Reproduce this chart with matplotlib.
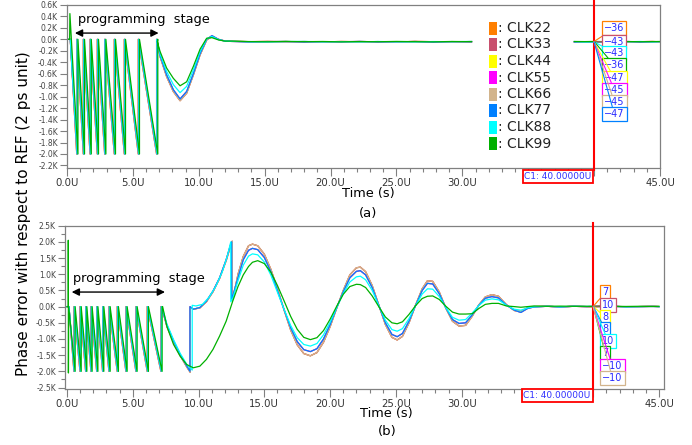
import numpy as np
import matplotlib
matplotlib.use('Agg')
import matplotlib.pyplot as plt
from matplotlib.patches import Rectangle
from matplotlib.ticker import MultipleLocator, FuncFormatter
import matplotlib.transforms as mtrans

W, H = 692, 445
nan = np.nan

CLOCKS = ['CLK22', 'CLK33', 'CLK44', 'CLK55', 'CLK66', 'CLK77', 'CLK88', 'CLK99']
COLORS = ['#ff7f00', '#c8506e', '#ffff00', '#ff00ff', '#d2b48c', '#0080ff', '#00ffff', '#00b000']
# hidden clocks sit underneath the tan / blue traces
TRACE = ['tan', 'tan', 'blue', 'blue', 'tan', 'blue', 'cyan', 'green']
SAW_LAG = [0.0, 0.0, 0.03, 0.03, 0.0, 0.03, 0.05, 0.09]
SAW_LOW = -2000
CURSOR = 40.0
HIDDEN_XLABELS = [35, 40]   # covered by the C1 readout box

# ---- (a) ----
RESET_A = [0.74, 1.24, 1.75, 2.30, 2.86, 3.59, 4.35, 5.41, 6.80]
START_A = {'tan': ([0, 0.25], [0, 0]), 'blue': ([0, 0.25], [0, 0]),
           'cyan': ([0, 0.25], [0, 0]), 'green': ([0, 0.2, 0.22], [0, 0, 450])}
REC_A_T = [6.85, 7.06, 7.56, 8.07, 8.58, 9.08, 9.59, 10.1, 10.6, 11.0, 11.5, 12.0]
REC_A = {
    'tan':   [-40, -300, -650, -910, -1070, -940, -620, -270, -10, 50, 0, -30],
    'blue':  [-40, -280, -620, -880, -1040, -910, -600, -250, 0, 65, 0, -30],
    'cyan':  [-40, -250, -560, -790, -930, -820, -530, -210, 10, 50, -5, -30],
    'green': [-40, -210, -500, -680, -810, -740, -470, -170, 20, 30, -10, -30],
}
FLAT_A_T = [12.5, 13.8, 15.2, 16.6, 18.0, 19.4, 20.8, 22.2, 23.6, 25.0, 26.4, 27.8, 29.2, 30.7,
            nan, 38.5, 39.3, 40.0, 40.8, 41.7, 42.6, 43.5, 44.4, 45.0]
FLAT_A = {
    'tan':   [-32, -40, -36, -42, -38, -44, -37, -41, -39, -45, -36, -40, -43, -38,
              nan, -40, -44, -45, -41, -38, -44, -40, -37, -42],
    'blue':  [-36, -44, -39, -37, -45, -40, -42, -36, -44, -41, -38, -46, -39, -42,
              nan, -45, -41, -47, -43, -40, -38, -45, -41, -39],
    'cyan':  [-34, -41, -45, -39, -36, -43, -40, -45, -37, -42, -44, -38, -41, -36,
              nan, -38, -46, -43, -39, -44, -41, -37, -44, -40],
    'green': [-30, -38, -42, -35, -40, -37, -43, -38, -41, -36, -40, -43, -37, -40,
              nan, -37, -39, -36, -40, -42, -38, -41, -39, -37],
}
CUR_A_ORDER = ['CLK22', 'CLK33', 'CLK88', 'CLK99', 'CLK44', 'CLK55', 'CLK66', 'CLK77']
CUR_A_VALS = [-36, -43, -43, -36, -47, -45, -45, -47]

# ---- (b) ----
RESET_B = [0.53, 0.99, 1.42, 1.82, 2.26, 2.71, 3.19, 3.82, 4.48, 5.24, 6.10, 7.14]
START_B = {'tan': ([0, 0.15], [0, 0]), 'blue': ([0, 0.15], [0, 0]),
           'cyan': ([0, 0.15], [0, 0]),
           'green': ([0, 0.1, 0.1, 0.11, 0.13], [0, 0, 2050, -2050, 0])}
REC_B = {
    'tan': ([7.19, 7.6, 8.1, 8.6, 9.1, 9.37, 9.37, 9.6, 10.1, 10.6, 11.1, 11.6, 12.1, 12.5, 12.56, 12.56],
            [0, -620, -1100, -1510, -1860, -2030, -20, -80, -40, 150, 460, 870, 1420, 1960, 2020, 200]),
    'blue': ([7.17, 7.6, 8.1, 8.6, 9.1, 9.35, 9.35, 9.6, 10.1, 10.6, 11.1, 11.6, 12.1, 12.47, 12.52, 12.52],
             [0, -580, -1060, -1480, -1830, -2000, 0, -80, -30, 170, 480, 890, 1450, 1960, 2000, 250]),
    'cyan': ([7.22, 7.6, 8.1, 8.6, 9.1, 9.52, 9.52, 9.8, 10.3, 10.8, 11.3, 11.8, 12.2, 12.45, 12.45],
             [0, -540, -1020, -1440, -1780, -1960, 40, 20, 70, 290, 620, 1070, 1580, 2000, 150]),
    'green': ([7.27, 7.6, 8.1, 8.6, 9.1, 9.6, 10.1, 10.6, 11.1, 11.6, 12.1],
              [0, -620, -1170, -1530, -1790, -1890, -1840, -1630, -1320, -910, -450]),
}
OSC_B_T = [12.6, 13.0, 13.4, 13.8, 14.1, 14.5, 15.0, 15.5, 16.0, 16.5,
           17.0, 17.5, 18.0, 18.5, 19.0, 19.5, 20.0, 20.5, 21.0, 21.5,
           22.0, 22.3, 22.7, 23.2, 23.7, 24.2, 24.7, 25.1, 25.5, 26.0,
           26.5, 27.0, 27.4, 27.8, 28.3, 28.8, 29.3, 29.8, 30.3, 30.8,
           31.3, 31.8, 32.3, 32.8, 33.4, 34.0, 34.5, 35.0, 35.5, 36.5,
           37.5, 38.5, 39.5, 40.0, 40.5, 41.5, 42.5, 43.5, 44.5, 45.0]
OSC_B = {
    'tan': [220, 1000, 1550, 1880, 1930, 1880, 1620, 1150, 550, -100,
            -720, -1180, -1450, -1520, -1420, -1100, -620, -50, 500, 980,
            1200, 1220, 1080, 650, 50, -550, -950, -1030, -920, -500,
            50, 550, 800, 780, 450, -50, -450, -600, -580, -300,
            50, 300, 370, 320, 60, -120, -150, -40, 0, 10,
            -10, 10, 0, -10, 0, 10, -10, 0, 10, 0],
    'blue': [320, 900, 1450, 1740, 1800, 1760, 1520, 1080, 500, -90,
             -650, -1080, -1330, -1390, -1300, -1000, -560, -40, 460, 890,
             1090, 1110, 980, 590, 40, -500, -860, -930, -830, -450,
             40, 500, 720, 700, 400, -40, -400, -520, -500, -260,
             40, 260, 310, 270, 50, -110, -180, -60, -10, 10,
             -10, 10, 0, 8, 5, 10, -5, 0, 5, 0],
    'cyan': [250, 800, 1280, 1560, 1630, 1600, 1380, 970, 440, -80,
             -580, -960, -1170, -1220, -1140, -870, -480, -30, 400, 760,
             920, 940, 830, 500, 30, -420, -710, -760, -680, -370,
             30, 390, 550, 540, 310, -30, -330, -420, -400, -200,
             30, 200, 240, 210, 40, -80, -110, -40, -5, 10,
             -5, 10, 5, 10, 5, 5, -5, 0, 5, 0],
    'green': [170, 620, 980, 1240, 1370, 1420, 1330, 1060, 650, 180,
              -300, -700, -950, -1020, -960, -740, -390, 10, 380, 620,
              690, 680, 590, 330, 0, -320, -500, -530, -470, -240,
              30, 250, 320, 330, 220, 10, -170, -230, -230, -220,
              -60, 70, 100, 100, 20, 0, -20, 0, 20, 10,
              15, 10, 10, 7, 10, 10, 5, 10, 5, 10],
}
CUR_B_ORDER = ['CLK22', 'CLK33', 'CLK44', 'CLK77', 'CLK88', 'CLK99', 'CLK55', 'CLK66']
CUR_B_VALS = [7, 10, 8, 8, 10, 7, -10, -10]


def fx(px):
    return px / W


def fy(py):
    return 1 - py / H


def sawtooth(start, resets, lag):
    t, v = list(start[0]), list(start[1])
    for r in resets:
        t += [r + lag, r + lag]
        v += [SAW_LOW, 0]
    return t, v


def xlabel_fmt(v, _):
    if any(abs(v - h) < 1e-6 for h in HIDDEN_XLABELS):
        return ''
    return f'{v:.1f}U'


def style_axes(ax, ymajor, yminor):
    for s in ax.spines.values():
        s.set_color('#808080')
        s.set_linewidth(0.9)
    ax.xaxis.set_major_locator(MultipleLocator(5))
    ax.xaxis.set_minor_locator(MultipleLocator(1))
    ax.yaxis.set_major_locator(MultipleLocator(ymajor))
    if yminor:
        ax.yaxis.set_minor_locator(MultipleLocator(yminor))
    ax.xaxis.set_major_formatter(FuncFormatter(xlabel_fmt))
    ax.yaxis.set_major_formatter(
        FuncFormatter(lambda v, _: f'{0.0 if abs(v) < 1e-9 else v / 1000:.1f}K'))
    ax.tick_params(axis='x', which='major', length=6, width=0.8, color='#808080',
                   labelsize=7.3, pad=1.5, labelcolor='#333333')
    ax.tick_params(axis='x', which='minor', length=3, width=0.8, color='#808080')
    ax.tick_params(axis='y', which='major', length=5, width=0.8, color='#808080',
                   labelsize=5.5, pad=1.5, labelcolor='#444444')
    ax.tick_params(axis='y', which='minor', length=3, width=0.8, color='#808080')


def cursor_labels(ax, order, vals, dys, dx):
    for name, val, dy in zip(order, vals, dys):
        c = COLORS[CLOCKS.index(name)]
        ax.annotate(f'{val}'.replace('-', '\u2212'), xy=(CURSOR, val), xytext=(dx, dy),
                    textcoords='offset pixels', ha='left', va='center', fontsize=7,
                    color='#2a2aff', zorder=10,
                    bbox=dict(boxstyle='square,pad=0.2', fc='white', ec=c, lw=0.9),
                    arrowprops=dict(arrowstyle='-', color=c, lw=0.8, shrinkA=0, shrinkB=0))


def cursor_marker(ax, y_top_px, y_box_px):
    tr = mtrans.blended_transform_factory(ax.transData, fig.transFigure)
    ax.plot([CURSOR, CURSOR], [fy(y_top_px), fy(y_box_px - 6.5)], color='red', lw=1.5,
            transform=tr, clip_on=False, zorder=8)
    ax.annotate(f'C1: {CURSOR:.5f}U', xy=(CURSOR, fy(y_box_px)), xycoords=tr,
                xytext=(-2.5, 0), textcoords='offset pixels', ha='right', va='center',
                fontsize=6.5, color='#3030ff', annotation_clip=False, zorder=9,
                bbox=dict(boxstyle='square,pad=0.2', fc='white', ec='red', lw=1.3))


fig = plt.figure(figsize=(W / 100, H / 100), dpi=100, facecolor='white')
axA = fig.add_axes([fx(67), fy(168), fx(660) - fx(67), fy(5) - fy(168)])
axB = fig.add_axes([fx(65), fy(388.5), fx(664) - fx(65), fy(225.7) - fy(388.5)])

# --- panel (a) ---
for name, color, trace, lag in zip(CLOCKS, COLORS, TRACE, SAW_LAG):
    t, v = sawtooth(START_A[trace], RESET_A, lag)
    t = t + REC_A_T + FLAT_A_T
    v = v + REC_A[trace] + FLAT_A[trace]
    axA.plot(t, v, color=color, lw=0.9, zorder=2)
axA.set_xlim(0, 45)
axA.set_ylim(-2245, 600)
style_axes(axA, 200, None)
axA.text(0.83, 340, 'programming  stage', fontsize=9.3, va='center', ha='left')
axA.annotate('', xy=(0.6, 110), xytext=(6.95, 110),
             arrowprops=dict(arrowstyle='<|-|>', color='black', lw=1.0, mutation_scale=11,
                             shrinkA=0, shrinkB=0))
cursor_labels(axA, CUR_A_ORDER, CUR_A_VALS, [13, 0, -11, -24, -36, -48, -60, -72], 10)
cursor_marker(axA, 0, 176.5)

# legend
for i, (name, color) in enumerate(zip(CLOCKS, COLORS)):
    yc = 28 + i * 16.5
    fig.patches.append(Rectangle((fx(489), fy(yc + 6.5)), fx(8), 13 / H, transform=fig.transFigure,
                                 fc=color, ec='none'))
    fig.text(fx(497.5), fy(yc), f': {name}', fontsize=10, va='center', ha='left', color='#222222')

# --- panel (b) ---
for name, color, trace, lag in zip(CLOCKS, COLORS, TRACE, SAW_LAG):
    t, v = sawtooth(START_B[trace], RESET_B, lag)
    t = t + REC_B[trace][0] + OSC_B_T
    v = v + REC_B[trace][1] + OSC_B[trace]
    axB.plot(t, v, color=color, lw=0.9, zorder=2)
axB.set_xlim(-0.15, 45.38)
axB.set_ylim(-2530, 2500)
style_axes(axB, 500, 250)
axB.text(0.48, 860, 'programming  stage', fontsize=9.3, va='center', ha='left')
axB.annotate('', xy=(0.36, 450), xytext=(7.45, 450),
             arrowprops=dict(arrowstyle='<|-|>', color='black', lw=1.0, mutation_scale=11,
                             shrinkA=0, shrinkB=0))
cursor_labels(axB, CUR_B_ORDER, CUR_B_VALS, [14, 1, -11, -23, -35, -47, -59, -71], 9)
cursor_marker(axB, 223, 395.5)

fig.text(fx(368), fy(193.5), 'Time (s)', fontsize=9.3, ha='center', va='center')
fig.text(fx(368), fy(213), '(a)', fontsize=9.5, ha='center', va='center')
fig.text(fx(386), fy(414), 'Time (s)', fontsize=9.3, ha='center', va='center')
fig.text(fx(387), fy(431), '(b)', fontsize=9.5, ha='center', va='center')
fig.text(fx(24), fy(214), 'Phase error with respect to REF (2 ps unit)', fontsize=11,
         rotation=90, ha='center', va='center')

fig.savefig('out.png', dpi=100, facecolor='white')
